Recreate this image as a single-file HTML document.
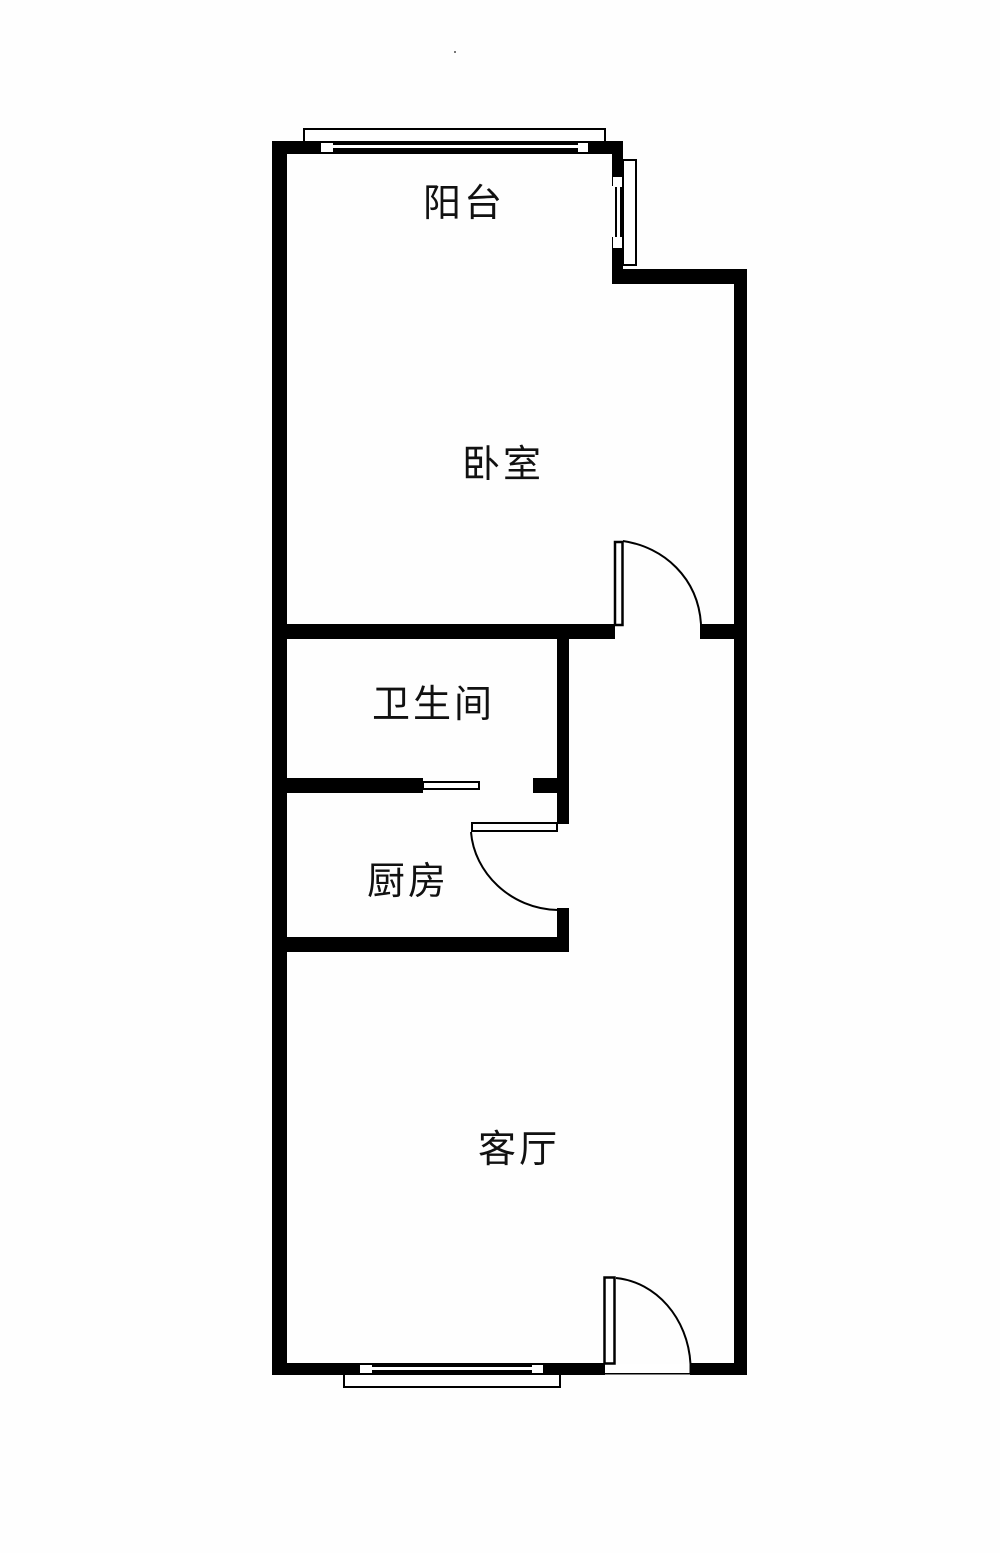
<!DOCTYPE html>
<html lang="zh">
<head>
<meta charset="utf-8">
<style>
html,body{margin:0;padding:0;background:#fff}
svg{display:block}
text{font-family:"Liberation Sans","WenQuanYi Zen Hei","Noto Sans CJK SC",sans-serif;font-size:38px;fill:#111;letter-spacing:3px}
</style>
</head>
<body>
<svg width="1000" height="1553" viewBox="0 0 1000 1553" xmlns="http://www.w3.org/2000/svg">
<rect width="1000" height="1553" fill="#fefefe"/>
<rect x="454" y="51" width="2" height="2" fill="#777"/>

<!-- walls -->
<g fill="#000">
<rect x="272" y="141" width="15" height="1234"/>
<rect x="272" y="141" width="351" height="13"/>
<rect x="612" y="141" width="11" height="143"/>
<rect x="612" y="269" width="135" height="15"/>
<rect x="734" y="269" width="13" height="1106"/>
<rect x="272" y="624" width="343" height="15"/>
<rect x="700" y="624" width="40" height="15"/>
<rect x="557" y="624" width="12" height="200"/>
<rect x="272" y="778" width="151" height="15"/>
<rect x="533" y="778" width="30" height="15"/>
<rect x="557" y="908" width="12" height="44"/>
<rect x="272" y="937" width="297" height="15"/>
<rect x="272" y="1363" width="333" height="12"/>
<rect x="690" y="1363" width="57" height="12"/>
</g>

<!-- top window -->
<rect x="304" y="129" width="301" height="13" fill="#fff" stroke="#000" stroke-width="2"/>
<rect x="272" y="141" width="351" height="13" fill="#000"/>
<rect x="321" y="143" width="12" height="9" fill="#fff"/>
<rect x="578" y="143" width="10" height="9" fill="#fff"/>
<rect x="333" y="145" width="245" height="3" fill="#fff"/>

<!-- right window -->
<rect x="623" y="160" width="13" height="105" fill="#fff" stroke="#000" stroke-width="2"/>
<rect x="612" y="141" width="11" height="143" fill="#000"/>
<rect x="612" y="186" width="3" height="51" fill="#fff"/>
<rect x="613" y="177" width="9" height="10" fill="#fff"/>
<rect x="613" y="237" width="9" height="11" fill="#fff"/>
<rect x="617" y="187" width="3" height="50" fill="#fff"/>

<!-- bedroom door -->
<rect x="615" y="542" width="7.500" height="83" fill="#fff" stroke="#000" stroke-width="2.500"/>
<path d="M623 541 C664 547 698 578 701 624" fill="none" stroke="#000" stroke-width="2"/>

<!-- bathroom window -->
<rect x="423" y="782" width="56" height="7" fill="#fff" stroke="#000" stroke-width="2"/>

<!-- kitchen door -->
<rect x="472" y="823" width="85" height="8" fill="#fff" stroke="#000" stroke-width="2"/>
<path d="M471 832 C474 872 510 909 558 910" fill="none" stroke="#000" stroke-width="2"/>

<!-- bottom window -->
<rect x="344" y="1372" width="216" height="15" fill="#fff" stroke="#000" stroke-width="2"/>
<rect x="272" y="1363" width="333" height="12" fill="#000"/>
<rect x="360" y="1365" width="12" height="8" fill="#fff"/>
<rect x="532" y="1365" width="11" height="8" fill="#fff"/>
<rect x="372" y="1367" width="160" height="3" fill="#fff"/>

<!-- entry door -->
<rect x="605" y="1364" width="85" height="9" fill="#fff"/>
<rect x="604.500" y="1277.500" width="10" height="86" fill="#fff" stroke="#000" stroke-width="2.500"/>
<path d="M616 1278 C656 1282 688 1318 690.500 1364 V1374" fill="none" stroke="#000" stroke-width="2"/>
<rect x="605" y="1373" width="85" height="1.500" fill="#000"/>

<!-- labels -->
<text x="423" y="216">阳台</text>
<text x="462" y="477">卧室</text>
<text x="372" y="717">卫生间</text>
<text x="367" y="894">厨房</text>
<text x="478" y="1162">客厅</text>
</svg>
</body>
</html>
